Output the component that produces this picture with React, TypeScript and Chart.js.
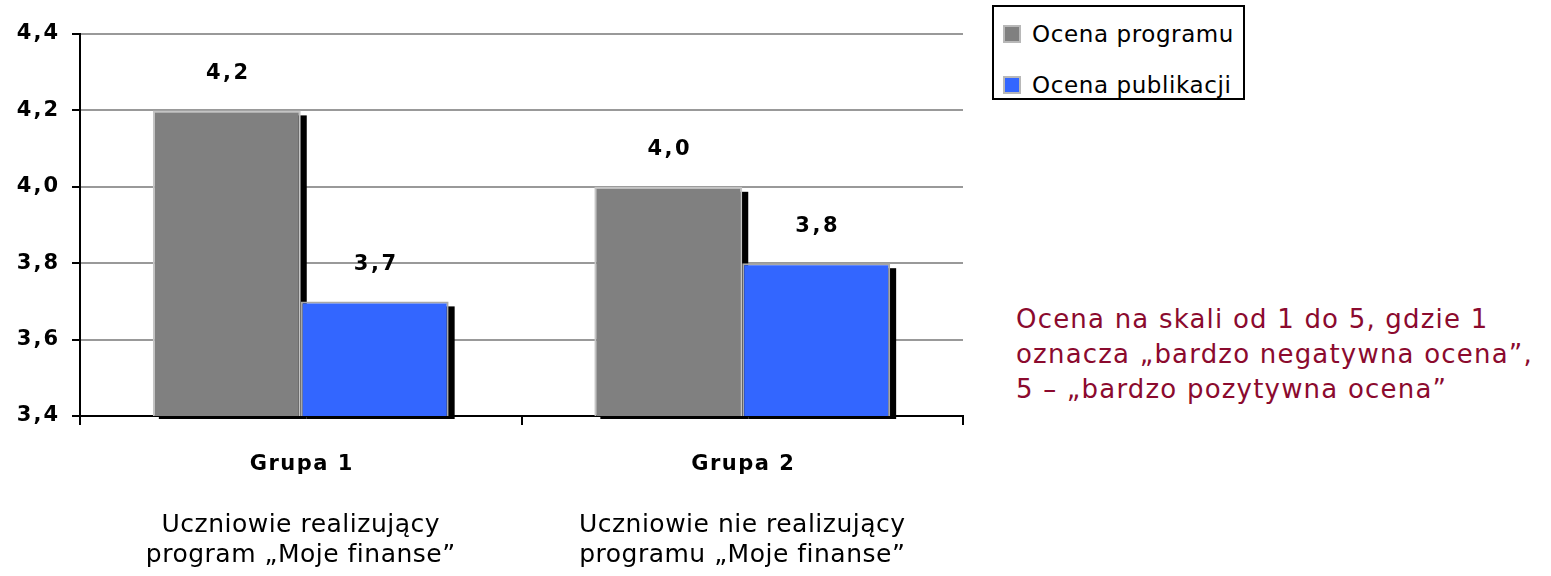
import React, { useEffect, useRef } from "react";
import { Chart, registerables } from "chart.js";

Chart.register(...registerables);

const categories = ["Grupa 1", "Grupa 2"];
const descLine1 = ["Uczniowie realizujący", "Uczniowie nie realizujący"];
const descLine2 = ["program „Moje finanse”", "programu „Moje finanse”"];
const seriesNames = ["Ocena programu", "Ocena publikacji"];
const ocenaProgramu = [4.2, 4.0];
const ocenaPublikacji = [3.7, 3.8];
const yMin = 3.4;
const yMax = 4.4;
const yStep = 0.2;
const noteLines = [
  "Ocena na skali od 1 do 5, gdzie 1",
  "oznacza „bardzo negatywna ocena”,",
  "5 – „bardzo pozytywna ocena”",
];

const FONT = "'DejaVu Sans', sans-serif";
const GRAY = "#808080";
const BLUE = "#3366FF";

const fmt = (v: number) => Number(v).toFixed(1).replace(".", ",");

const spacingPlugin = {
  id: "spacing",
  beforeDraw(chart: any) {
    chart.ctx.letterSpacing = "2px";
  },
  afterDraw(chart: any) {
    chart.ctx.letterSpacing = "0px";
  },
};

const shadowPlugin = {
  id: "barShadow",
  beforeDatasetsDraw(chart: any) {
    const ctx = chart.ctx;
    const bottom = chart.chartArea.bottom;
    ctx.save();
    ctx.fillStyle = "#000";
    chart.data.datasets.forEach((_ds: any, di: number) => {
      chart.getDatasetMeta(di).data.forEach((el: any) => {
        const p = el.getProps(["x", "y", "base", "width"], true);
        const left = p.x - p.width / 2;
        const b = Math.min(p.base, bottom) + 3;
        ctx.fillRect(left + 6, p.y + 5, p.width, b - (p.y + 5));
      });
    });
    ctx.restore();
  },
};

const valueLabelPlugin = {
  id: "valueLabels",
  afterDatasetsDraw(chart: any) {
    const ctx = chart.ctx;
    ctx.save();
    ctx.font = `bold 21px ${FONT}`;
    ctx.letterSpacing = "2.5px";
    ctx.fillStyle = "#000";
    ctx.textAlign = "center";
    ctx.textBaseline = "middle";
    chart.data.datasets.forEach((ds: any, di: number) => {
      const meta = chart.getDatasetMeta(di);
      meta.data.forEach((el: any, i: number) => {
        const p = el.getProps(["x", "y"], true);
        ctx.fillText(fmt(ds.data[i]), p.x + 1.5, p.y - 37);
      });
    });
    ctx.restore();
  },
};

const categoryLabelPlugin = {
  id: "categoryLabels",
  afterDraw(chart: any) {
    const ctx = chart.ctx;
    const xs = chart.scales.x;
    const base = chart.chartArea.bottom;
    ctx.save();
    ctx.fillStyle = "#000";
    ctx.textAlign = "center";
    ctx.textBaseline = "middle";
    categories.forEach((c, i) => {
      const x = xs.getPixelForValue(i);
      ctx.font = `bold 21px ${FONT}`;
      ctx.letterSpacing = "1.5px";
      ctx.fillText(c, x + 1, base + 49);
      ctx.font = `25px ${FONT}`;
      ctx.letterSpacing = "0.5px";
      ctx.fillText(descLine1[i], x, base + 109);
      ctx.fillText(descLine2[i], x, base + 139);
    });
    ctx.restore();
  },
};

export default function App() {
  const canvasRef = useRef<HTMLCanvasElement | null>(null);

  useEffect(() => {
    if (!canvasRef.current) return;
    const chart = new Chart(canvasRef.current, {
      type: "bar",
      data: {
        labels: categories,
        datasets: [
          {
            label: seriesNames[0],
            data: ocenaProgramu,
            backgroundColor: GRAY,
            borderColor: "#c4c4c4",
            borderWidth: 2,
          },
          {
            label: seriesNames[1],
            data: ocenaPublikacji,
            backgroundColor: BLUE,
            borderColor: "#a8a8a8",
            borderWidth: 2,
          },
        ],
      },
      options: {
        responsive: false,
        animation: false,
        devicePixelRatio: 1,
        categoryPercentage: 0.67,
        barPercentage: 1,
        layout: { padding: { top: 26, right: 5, left: 0, bottom: 0 } },
        plugins: {
          legend: { display: false },
          tooltip: { enabled: false },
        },
        scales: {
          x: {
            offset: true,
            grid: {
              display: true,
              offset: true,
              drawOnChartArea: false,
              drawTicks: true,
              tickLength: 9,
              color: "#000",
              lineWidth: 2,
            },
            border: { color: "#000", width: 2 },
            ticks: { display: false },
            afterFit: (s: any) => {
              s.height = 160;
            },
          },
          y: {
            min: yMin,
            max: yMax,
            ticks: {
              stepSize: yStep,
              callback: (v: any) => fmt(v),
              font: { family: FONT, size: 21, weight: "bold" },
              color: "#000",
              padding: 12,
            },
            grid: {
              color: "#999999",
              lineWidth: 2,
              tickColor: "#000",
              tickLength: 8,
            },
            border: { color: "#000", width: 2 },
            afterFit: (s: any) => {
              s.width = 72;
            },
          },
        },
      },
      plugins: [spacingPlugin, shadowPlugin, valueLabelPlugin, categoryLabelPlugin],
    });
    return () => chart.destroy();
  }, []);

  return (
    <div style={{ position: "absolute", left: 0, top: 0, width: 1551, height: 576, fontFamily: FONT }}>
      <canvas
        ref={canvasRef}
        width={960}
        height={568}
        style={{ position: "absolute", left: 8, top: 8, width: 960, height: 568 }}
      />
      <div
        style={{
          position: "absolute",
          left: 992,
          top: 5,
          width: 249,
          height: 91,
          border: "2px solid #000",
          background: "#fff",
          boxSizing: "content-box",
        }}
      >
        {seriesNames.map((n, i) => (
          <div
            key={n}
            style={{
              position: "absolute",
              left: 9,
              top: 10 + i * 51,
              height: 34,
              display: "flex",
              alignItems: "center",
              fontSize: 23,
              letterSpacing: 0.6,
              whiteSpace: "nowrap",
            }}
          >
            <span
              style={{
                display: "inline-block",
                width: 14,
                height: 14,
                background: i === 0 ? GRAY : BLUE,
                border: "2px solid #b8b8b8",
                marginRight: 11,
              }}
            />
            {n}
          </div>
        ))}
      </div>
      <div
        style={{
          position: "absolute",
          left: 1016,
          top: 302,
          fontSize: 26,
          lineHeight: "35px",
          color: "#8B0A2E",
          whiteSpace: "nowrap",
          letterSpacing: 1.2,
        }}
      >
        {noteLines.map((l) => (
          <div key={l}>{l}</div>
        ))}
      </div>
    </div>
  );
}
